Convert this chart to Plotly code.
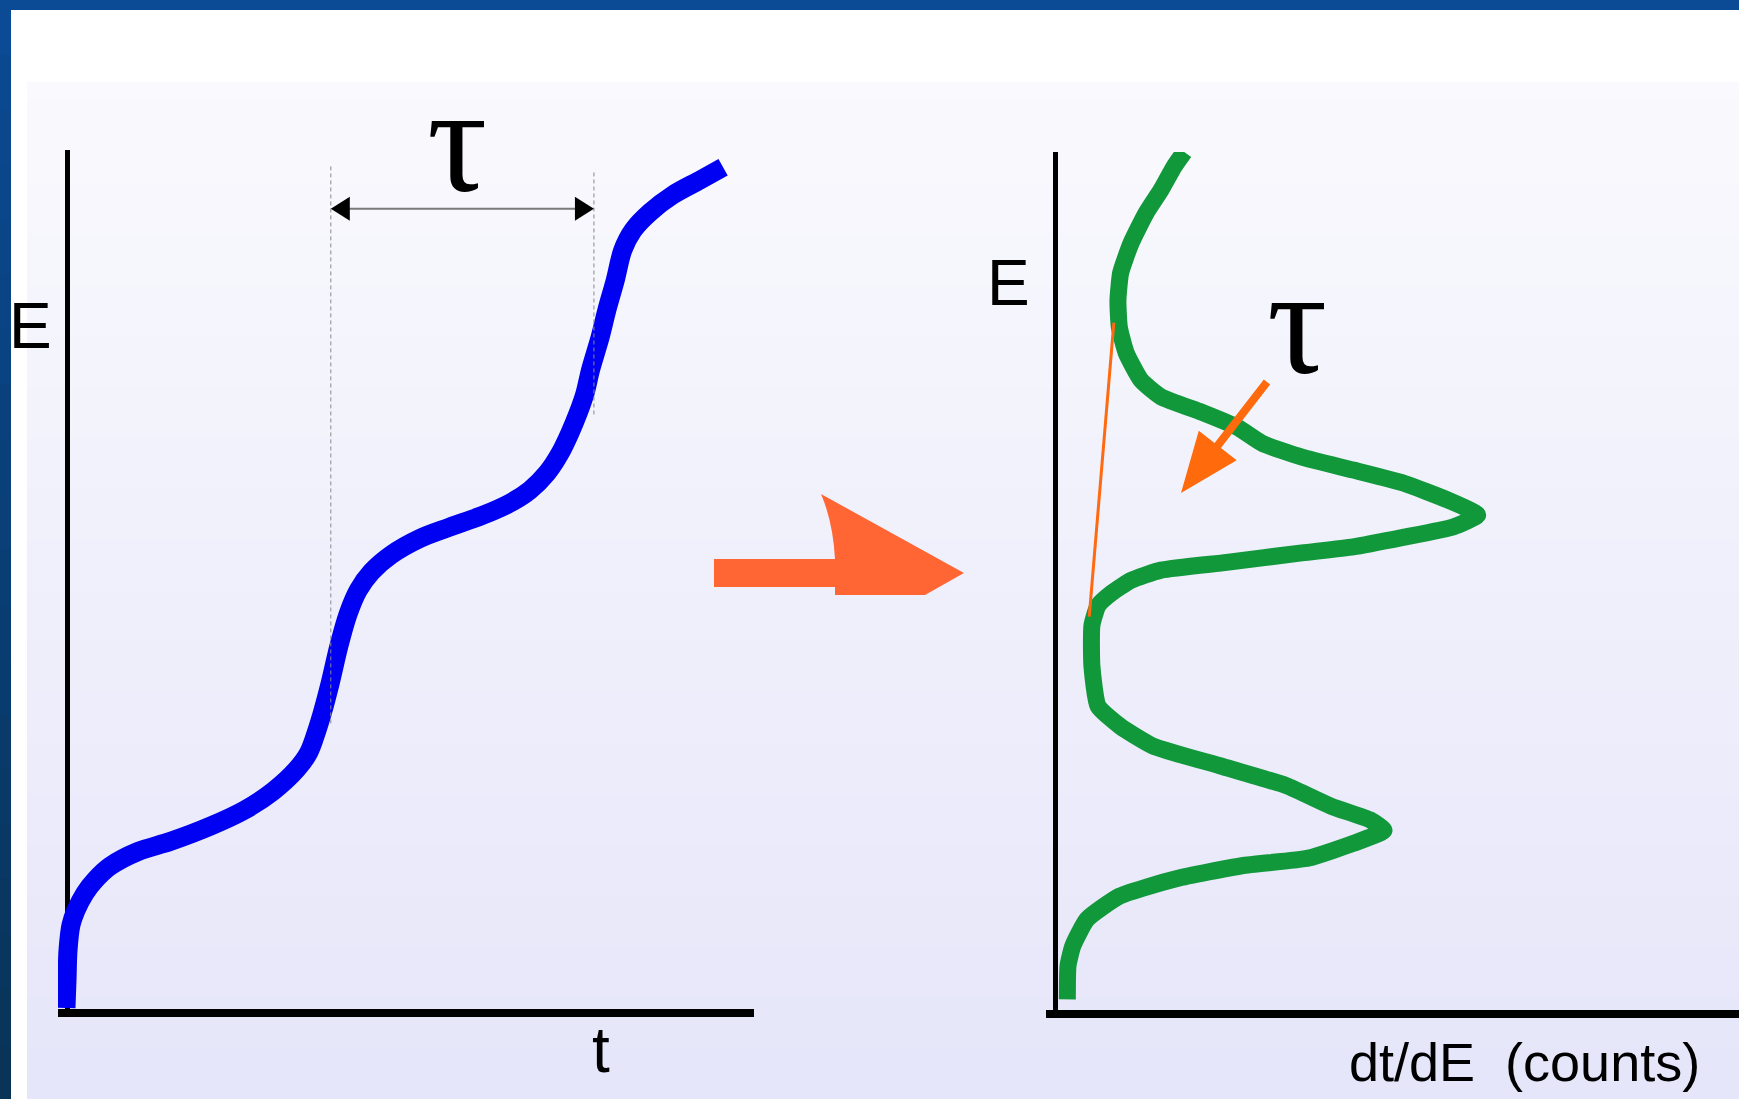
import plotly.graph_objects as go

W, H = 1739, 1099

# curva E(t) (panel izquierdo), t y E en unidades arbitrarias 0-100
t_vals = [-0.15, 0.0, 0.15, 0.58, 1.31, 2.62, 4.08, 6.26, 10.3, 15.1, 21.0, 25.8,
          30.0, 33.5, 35.2, 36.4, 37.1, 38.3, 39.6, 40.9, 42.4, 44.3, 47.2, 51.4,
          55.7, 60.6, 64.5, 67.4, 69.9, 71.8, 73.2, 74.4, 75.4, 76.2, 77.6, 78.6,
          79.8, 80.9, 82.4, 84.9, 88.2, 92.1, 95.5]
E_vals = [0.58, 3.82, 7.3, 10.2, 11.9, 13.9, 15.4, 17.0, 18.7, 19.9, 21.7, 23.5,
          25.7, 28.3, 30.2, 32.8, 34.6, 38.2, 42.6, 46.2, 49.0, 51.1, 53.1, 55.0,
          56.3, 57.7, 59.1, 60.6, 62.6, 64.9, 67.2, 69.5, 71.8, 74.5, 78.3, 81.5,
          84.9, 88.4, 90.7, 92.8, 94.8, 96.5, 98.0]

# histograma dt/dE (panel derecho)
counts = [18.9, 17.4, 15.5, 13.3, 11.1, 9.6, 9.2, 9.4, 10.4, 12.6, 15.5, 21.5,
          26.6, 30.3, 36.1, 43.6, 50.9, 57.5, 61.8, 58.2, 50.9, 43.6, 36.1, 25.1,
          15.5, 11.1, 8.2, 6.3, 5.4, 5.4, 6.3, 9.5, 14.3, 24.1, 33.8, 40.4,
          46.1, 48.1, 43.6, 37.1, 27.3, 17.7, 9.5, 4.7, 2.6, 1.9, 1.8]
E_hist = [100.0, 98.3, 95.6, 92.9, 89.4, 86.0, 82.8, 79.7, 76.7, 73.5, 71.6, 69.8,
          68.1, 66.2, 64.6, 63.1, 61.6, 59.6, 57.9, 56.5, 55.3, 54.2, 53.5, 52.4,
          51.5, 50.3, 48.8, 47.4, 45.1, 40.3, 35.7, 33.4, 31.1, 28.8, 26.5, 24.1,
          22.5, 21.3, 19.8, 18.1, 17.2, 15.7, 13.7, 11.0, 7.9, 5.6, 1.7]

# linea de base del pico (naranja)
base_counts = [8.6, 5.0]
base_E = [80.2, 46.1]

# intervalo tau marcado en el panel izquierdo
tau_t = [38.4, 76.7]
tau_top = [98.1, 97.4]
tau_bottom = [33.5, 69.0]
tau_bar_E = 93.2

# pixeles de cada eje (solo para colocar adornos)
def lx(t): return 67 + 6.87 * t
def ly(e): return 1013 - 8.63 * e
def fx(px): return px / W
def fy(py): return 1 - py / H

def path(pts):
    s = 'M%f,%f' % (fx(pts[0][0]), fy(pts[0][1]))
    for p in pts[1:]:
        s += ' L%f,%f' % (fx(p[0]), fy(p[1]))
    return s + ' Z'

fig = go.Figure()

fig.add_trace(go.Scatter(x=t_vals, y=E_vals, mode='lines', xaxis='x', yaxis='y',
                         line=dict(color='#0000f2', width=19, shape='spline', smoothing=0.9),
                         hoverinfo='skip'))
fig.add_trace(go.Scatter(x=counts, y=E_hist, mode='lines', xaxis='x2', yaxis='y2',
                         line=dict(color='#11983a', width=17, shape='spline', smoothing=0.5),
                         hoverinfo='skip'))
fig.add_trace(go.Scatter(x=base_counts, y=base_E, mode='lines', xaxis='x2', yaxis='y2',
                         line=dict(color='#ff6a10', width=3), hoverinfo='skip'))

shapes = []
# fondo: marco azul, blanco y degradado lila
shapes.append(dict(type='rect', xref='paper', yref='paper', x0=fx(11), x1=1, y0=0, y1=fy(10),
                   fillcolor='white', line_width=0, layer='below'))
n = 60
for i in range(n):
    f = i / (n - 1)
    col = 'rgb(%d,%d,%d)' % (250 - 20 * f, 250 - 20 * f, 254 - 4 * f)
    y0 = 82 + (1099 - 82) * i / n
    y1 = 82 + (1099 - 82) * (i + 1) / n + 1
    shapes.append(dict(type='rect', xref='paper', yref='paper', x0=fx(27), x1=1,
                       y0=fy(y1), y1=fy(y0), fillcolor=col, line_width=0, layer='below'))
for i in range(20):
    f = i / 19
    col = 'rgb(%d,%d,%d)' % (11 - 2 * f, 74 - 22 * f, 148 - 60 * f)
    shapes.append(dict(type='rect', xref='paper', yref='paper', x0=0, x1=fx(11),
                       y0=fy(1099 * (i + 1) / 20 + 1), y1=fy(1099 * i / 20),
                       fillcolor=col, line_width=0, layer='below'))

# lineas discontinuas y flecha de cota tau
for t, a, b in zip(tau_t, tau_top, tau_bottom):
    shapes.append(dict(type='line', xref='paper', yref='paper', x0=fx(lx(t)), x1=fx(lx(t)),
                       y0=fy(ly(a)), y1=fy(ly(b)), line=dict(color='#8a8a8a', width=1, dash='4px,3px')))
xa, xb, yb = lx(tau_t[0]), lx(tau_t[1]), ly(tau_bar_E)
shapes.append(dict(type='line', xref='paper', yref='paper', x0=fx(xa + 5), x1=fx(xb - 5),
                   y0=fy(yb), y1=fy(yb), line=dict(color='#7a7a7a', width=2)))
shapes.append(dict(type='path', path=path([(xa, yb), (xa + 19, yb - 12), (xa + 19, yb + 12)]),
                   xref='paper', yref='paper', fillcolor='black', line_width=0))
shapes.append(dict(type='path', path=path([(xb, yb), (xb - 19, yb - 12), (xb - 19, yb + 12)]),
                   xref='paper', yref='paper', fillcolor='black', line_width=0))

# flecha gruesa entre paneles
block = ('M%f,%f L%f,%f Q%f,%f %f,%f L%f,%f L%f,%f L%f,%f L%f,%f L%f,%f Z' % (
    fx(714), fy(559), fx(835), fy(559), fx(833), fy(522), fx(821), fy(494),
    fx(964), fy(573), fx(925), fy(595), fx(835), fy(595), fx(835), fy(587),
    fx(714), fy(587)))
shapes.append(dict(type='path', path=block, xref='paper', yref='paper',
                   fillcolor='#ff6633', line_width=0))

# flecha naranja que senala el area del pico
sx, sy, tx, ty = 1267, 382, 1181, 493
L = ((tx - sx) ** 2 + (ty - sy) ** 2) ** 0.5
ux, uy = (tx - sx) / L, (ty - sy) / L
nx, ny = -uy, ux
hl, hw, sw = 60, 48, 8
kx, ky = tx - ux * hl, ty - uy * hl
pts = [(sx + nx * sw / 2, sy + ny * sw / 2), (kx + nx * sw / 2, ky + ny * sw / 2),
       (kx + nx * hw / 2, ky + ny * hw / 2), (tx, ty),
       (kx - nx * hw / 2, ky - ny * hw / 2), (kx - nx * sw / 2, ky - ny * sw / 2),
       (sx - nx * sw / 2, sy - ny * sw / 2)]
shapes.append(dict(type='path', path=path(pts), xref='paper', yref='paper',
                   fillcolor='#ff6a0d', line_width=0))

sans = 'Liberation Sans Narrow, Arial Narrow, Liberation Sans, Arial, sans-serif'
serif = 'Liberation Serif, Times New Roman, serif'

def label(text, px, py, size, family=sans):
    return dict(text=text, x=fx(px), y=fy(py), xref='paper', yref='paper', showarrow=False,
                xanchor='center', yanchor='middle', font=dict(family=family, size=size, color='black'))

annotations = [
    label('E', 30, 326, 64),
    label('t', 601, 1050, 64),
    label('E', 1008, 283, 64),
    label('dt/dE\u00a0\u00a0(counts)', 1524, 1062, 54),
    label('\u03c4', 457, 140, 150, serif),
    label('\u03c4', 1297, 322, 150, serif),
]

axis_common = dict(showgrid=False, showticklabels=False, ticks='', showline=False, zeroline=True,
                   zerolinecolor='black', fixedrange=True)

fig.update_layout(
    width=W, height=H,
    margin=dict(l=0, r=0, t=0, b=0),
    paper_bgcolor='#0b4a94',
    plot_bgcolor='rgba(0,0,0,0)',
    showlegend=False,
    shapes=shapes,
    annotations=annotations,
    xaxis=dict(domain=[fx(58), fx(754)], range=[-1.31, 100], zerolinewidth=5, anchor='y', **axis_common),
    yaxis=dict(domain=[fy(1017), fy(150)], range=[-0.46, 100], zerolinewidth=8, anchor='x', **axis_common),
    xaxis2=dict(domain=[fx(1046), 1], range=[-1.32, 100], zerolinewidth=5, anchor='y2', **axis_common),
    yaxis2=dict(domain=[fy(1018), fy(152)], range=[-0.46, 100], zerolinewidth=8, anchor='x2', **axis_common),
)

fig.write_html('out.html', config={'displayModeBar': False},
               post_script="document.body.style.margin='0';")
